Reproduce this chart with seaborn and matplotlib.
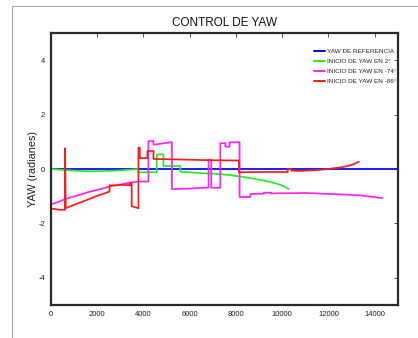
import numpy as np
import pandas as pd
import seaborn as sns
import matplotlib
matplotlib.use("Agg")
import matplotlib.pyplot as plt
from matplotlib.lines import Line2D

# ---------------- data ----------------
title = "CONTROL DE YAW"
ylabel = "YAW (radianes)"
labels = ["YAW DE REFERENCIA", "INICIO DE YAW EN 2°",
          "INICIO DE YAW EN -74°", "INICIO DE YAW EN -86°"]
colors = ["#0000ff", "#22ee22", "#ff22ff", "#ff1a1a"]

ref_x = [0, 15000]
ref_y = [0, 0]

g_x = [0, 500, 1000, 1500, 2000, 2500, 3000, 3500, 3780, 3780, 4580, 4580, 4700, 4870, 4870,
       5600, 5600, 6000, 6455, 7000, 7326, 7800, 8191, 8600, 9060, 9500, 9920, 10100, 10280]
g_y = [0, -0.03, -0.06, -0.08, -0.08, -0.07, -0.05, -0.02, 0, -0.12, -0.12, 0.51, 0.55, 0.53, 0.11,
       0.11, -0.1, -0.12, -0.15, -0.17, -0.19, -0.23, -0.28, -0.33, -0.4, -0.48, -0.58, -0.65, -0.74]

m_x = [0, 300, 620, 1000, 1700, 2200, 2540, 3000, 3430, 3800, 4220, 4220, 4440, 4440, 4520,
       5236, 5236, 6000, 6820, 6820, 6936, 6936, 7326, 7326, 7542, 7542, 7728, 7728, 8160,
       8160, 8620, 8620, 9000, 9200, 9200, 9500, 9500, 10000, 10500, 11000, 11500, 12090,
       12700, 13385, 14320]
m_y = [-1.3, -1.22, -1.11, -1.01, -0.83, -0.73, -0.64, -0.57, -0.5, -0.46, -0.46, 1.03, 1.03, 0.9, 0.9,
       0.99, -0.74, -0.72, -0.68, 0.34, 0.34, -0.69, -0.69, 0.95, 0.95, 0.82, 0.82, 0.98, 0.98,
       -1.03, -1.03, -0.92, -0.91, -0.91, -0.87, -0.87, -0.9, -0.89, -0.89, -0.88, -0.9, -0.92,
       -0.94, -0.97, -1.07]

r_x = [0, 400, 620, 620, 650, 1000, 1500, 2000, 2540, 2540, 2800, 3100, 3430, 3430, 3500, 3500,
       3790, 3790, 3850, 3850, 4180, 4180, 4440, 4440, 5500, 6500, 8130, 8130, 9000, 10240, 10240,
       10400, 10400, 10700, 11000, 11510, 12000, 12520, 12800, 13100, 13310]
r_y = [-1.45, -1.5, -1.5, 0.76, -1.44, -1.32, -1.16, -0.99, -0.83, -0.6, -0.6, -0.58, -0.6, -0.52, -0.52, -1.37,
       -1.44, 0.78, 0.78, 0.40, 0.40, 0.66, 0.66, 0.37, 0.35, 0.33, 0.31, -0.12, -0.11, -0.11, 0.0,
       0.0, -0.06, -0.07, -0.06, -0.04, 0.0, 0.06, 0.1, 0.18, 0.27]

x_ticks = [0, 2000, 4000, 6000, 8000, 10000, 12000, 14000]
y_ticks = [-4, -2, 0, 2, 4]

# ---------------- build table ----------------
frames = []
for lab, xs, ys in zip(labels, [ref_x, g_x, m_x, r_x], [ref_y, g_y, m_y, r_y]):
    frames.append(pd.DataFrame({"t": xs, "yaw": ys, "serie": lab}))
df = pd.concat(frames, ignore_index=True)

sns.set_style("white")
plt.rcParams["font.family"] = ["Liberation Sans", "DejaVu Sans"]

fig = plt.figure(figsize=(4.18, 3.38), dpi=100)
ax = fig.add_axes([0.1213, 0.0976, 0.8307, 0.8048])

sns.lineplot(data=df, x="t", y="yaw", hue="serie", hue_order=labels,
             palette=dict(zip(labels, colors)), estimator=None, sort=False,
             linewidth=1.25, ax=ax)

ax.set_xlim(0, 15000)
ax.set_ylim(-5, 5)
ax.set_xticks(x_ticks)
ax.set_yticks(y_ticks)
ax.set_xticklabels([str(v) for v in x_ticks])
ax.set_yticklabels([str(v) for v in y_ticks])
ax.set_xlabel("")
ax.set_ylabel(ylabel, fontsize=7.8, color="#222222", labelpad=0)
ax.set_title(title, fontsize=8.5, color="#111111", pad=5)
ax.tick_params(direction="in", length=3, width=0.6, colors="#333333",
               labelsize=5.5, labelcolor="#222222", top=True, right=True, pad=4)
for s in ax.spines.values():
    s.set_visible(True)
    s.set_color("#2a2a2a")
    s.set_linewidth(1.6)

leg = ax.legend(loc="upper right", bbox_to_anchor=(1.004, 0.953), fontsize=4.6,
                frameon=False, handlelength=1.85, handletextpad=0.3,
                labelspacing=0.72, borderaxespad=0.0)
for h in leg.get_lines():
    h.set_linewidth(1.4)

# figure frame lines (screenshot border)
fig.add_artist(Line2D([12 / 418, 12 / 418], [0, 1 - 6 / 338], transform=fig.transFigure,
                      color="#aaaaaa", linewidth=0.8))
fig.add_artist(Line2D([12 / 418, 1], [1 - 6 / 338, 1 - 6 / 338], transform=fig.transFigure,
                      color="#aaaaaa", linewidth=0.8))

fig.savefig("out.png", dpi=100)
